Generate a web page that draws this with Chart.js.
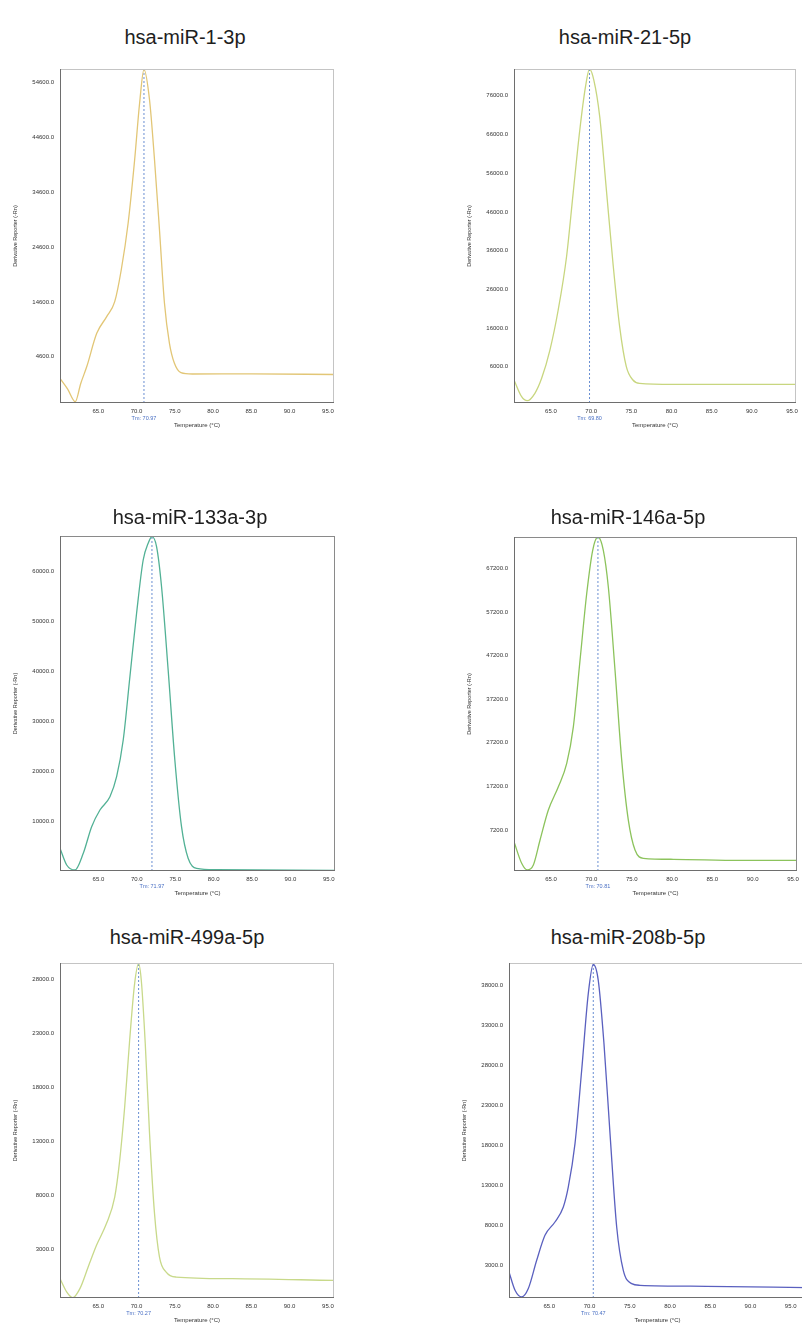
<!DOCTYPE html>
<html><head><meta charset="utf-8">
<script src="https://cdn.jsdelivr.net/npm/chart.js@4.4.1/dist/chart.umd.min.js"></script>
<style>
html,body{margin:0;padding:0;background:#fff;width:802px;height:1323px;overflow:hidden;position:relative;}
.ttl{position:absolute;font-family:"Liberation Sans",Arial,sans-serif;font-size:20px;color:#1e1e1e;transform:translate(-50%,-50%);white-space:nowrap;}
canvas{position:absolute;}
</style></head><body>
<script>
// ---------- data ----------
const titles = ['hsa-miR-1-3p','hsa-miR-21-5p','hsa-miR-133a-3p','hsa-miR-146a-5p','hsa-miR-499a-5p','hsa-miR-208b-5p'];
const tmValues = [70.97, 69.80, 71.97, 70.81, 70.27, 70.47];

const temps1 = [60, 61, 62, 62.7, 63.5, 64.8, 66.1, 67.15, 68, 68.9, 69.75, 70.4, 70.97, 71.7, 72.35, 73, 73.65, 74.3, 74.95, 75.8, 77.3, 85, 95.8];
const deriv1 = [660, -1300, -3600, -330, 2800, 8870, 11900, 14640, 20420, 28950, 40500, 50850, 57000, 51450, 40500, 27700, 14350, 7050, 3400, 1700, 1440, 1460, 1350];

const temps2 = [60.4, 61.35, 62.05, 63.0, 63.84, 64.87, 65.9, 66.94, 67.76, 68.59, 69.3, 69.8, 70.33, 71.07, 71.9, 72.72, 73.55, 74.38, 75.2, 76.03, 80.2, 88.5, 95.5];
const deriv2 = [2560, -1750, -2790, -870, 3000, 10300, 20650, 34420, 50800, 67160, 78350, 82900, 80100, 70600, 51660, 32720, 16340, 6000, 2560, 1710, 1450, 1450, 1450];

const temps3 = [60, 60.87, 61.95, 63.03, 64.12, 65.2, 66.5, 67.37, 68.23, 69.1, 69.97, 70.83, 71.48, 71.97, 72.57, 73.22, 74.08, 74.95, 75.82, 76.68, 77.78, 80.4, 95.8];
const deriv3 = [4680, 1340, 340, 3680, 9000, 12340, 15000, 19000, 26340, 39000, 51680, 62340, 65680, 67000, 65000, 57000, 40340, 22340, 9000, 2680, 680, 400, 250];

const temps4 = [60.4, 61.35, 62.05, 62.8, 63.63, 64.66, 65.9, 66.94, 67.76, 68.59, 69.42, 70.16, 70.81, 71.48, 72.1, 72.93, 73.76, 74.58, 75.41, 76.44, 80.16, 88.44, 95.5];
const deriv4 = [4480, -470, -2010, -860, 4870, 11750, 17100, 22470, 30870, 46160, 61470, 71400, 74500, 71400, 62980, 43870, 23220, 9460, 2580, 680, 450, 220, 220];

const temps5 = [60, 60.87, 61.65, 62.6, 63.68, 64.77, 66.07, 67.15, 67.8, 68.45, 69.1, 69.75, 70.27, 70.62, 71.14, 71.7, 72.35, 73.0, 73.87, 75.17, 82.5, 95.8];
const deriv5 = [313, -920, -1450, -610, 1390, 3400, 5410, 7870, 11270, 16200, 22380, 27630, 29480, 27940, 22070, 13740, 6330, 2310, 920, 460, 313, 150];

const temps6 = [60, 60.75, 61.58, 62.4, 63.44, 64.47, 65.71, 66.75, 67.37, 68.2, 69.03, 69.85, 70.47, 71.09, 71.8, 72.55, 73.38, 74.2, 75.24, 76.27, 84.56, 96.9];
const deriv6 = [2160, -125, -960, 90, 3625, 6750, 8410, 10290, 12790, 18210, 27375, 36960, 40600, 38625, 30710, 19460, 7790, 2375, 710, 500, 375, 200];

const yTicks1 = [54600, 44600, 34600, 24600, 14600, 4600];
const yTicks2 = [76000, 66000, 56000, 46000, 36000, 26000, 16000, 6000];
const yTicks3 = [60000, 50000, 40000, 30000, 20000, 10000];
const yTicks4 = [67200, 57200, 47200, 37200, 27200, 17200, 7200];
const yTicks5 = [28000, 23000, 18000, 13000, 8000, 3000];
const yTicks6 = [38000, 33000, 28000, 23000, 18000, 13000, 8000, 3000];
const xTickValues = [65, 70, 75, 80, 85, 90, 95];

const xRanges = [[60,95.8],[60.4,95.5],[60,95.8],[60.4,95.5],[60,95.8],[60,96.9]];
const yRanges = [[-3850,57100],[-3380,82920],[140,67140],[-2240,74450],[-1480,29540],[-1090,40790]];

const yAxisTitle = 'Derivative Reporter (-Rn)';
const xAxisTitle = 'Temperature (°C)';

// ---------- styling / layout ----------
const lineColors = ['#e2c676', '#c8d67f', '#52b195', '#8cc35c', '#c8d98a', '#5a60bf'];
const frameTopColors = ['#c4c4c4','#c4c4c4','#8a8a8a','#8a8a8a','#c4c4c4','#c4c4c4'];
const plotBoxes = [[60,69,334,403],[514,69,796,403],[60,536,335,871],[514,537,797,871],[60,963,334,1298],[509,963,806,1298]];
const titlePos = [[185,37],[625,37],[190,517],[628,517],[187,937],[628,937]];

const allTemps = [temps1,temps2,temps3,temps4,temps5,temps6];
const allDeriv = [deriv1,deriv2,deriv3,deriv4,deriv5,deriv6];
const allYTicks = [yTicks1,yTicks2,yTicks3,yTicks4,yTicks5,yTicks6];

Chart.defaults.font.family = '"Liberation Sans", Arial, sans-serif';

const framePlugin = {
  id: 'frame',
  afterDatasetsDraw(chart, args, opts) {
    const {ctx, chartArea: {left, top, right, bottom}} = chart;
    ctx.save();
    ctx.lineWidth = 1;
    ctx.strokeStyle = opts.lightColor;
    ctx.beginPath();
    ctx.moveTo(left, top + 0.5); ctx.lineTo(right, top + 0.5);
    ctx.moveTo(right - 0.5, top); ctx.lineTo(right - 0.5, bottom);
    ctx.stroke();
    ctx.strokeStyle = '#6e6e6e';
    ctx.beginPath();
    ctx.moveTo(left + 0.5, top); ctx.lineTo(left + 0.5, bottom);
    ctx.moveTo(left, bottom - 0.5); ctx.lineTo(right, bottom - 0.5);
    ctx.stroke();
    ctx.restore();
  }
};
const tmLabelPlugin = {
  id: 'tmLabel',
  afterDraw(chart, args, opts) {
    const {ctx, chartArea: {bottom}} = chart;
    const x = chart.scales.x.getPixelForValue(opts.tm);
    ctx.save();
    ctx.font = '5.5px "Liberation Sans", Arial, sans-serif';
    ctx.fillStyle = '#4a70c4';
    ctx.textAlign = 'center';
    ctx.textBaseline = 'middle';
    ctx.fillText('Tm: ' + opts.tm.toFixed(2), x, bottom + 15);
    ctx.restore();
  }
};
Chart.register(framePlugin, tmLabelPlugin);

function makePanel(i) {
  const [L, T, R, B] = plotBoxes[i];
  const yW = 60, padTop = 10, padRight = 16, xH = 28;
  const w = yW + (R - L) + padRight, h = padTop + (B - T) + xH;
  const cv = document.createElement('canvas');
  cv.width = w; cv.height = h;
  cv.style.left = (L - yW) + 'px'; cv.style.top = (T - padTop) + 'px';
  cv.style.width = w + 'px'; cv.style.height = h + 'px';
  document.body.appendChild(cv);

  const t = document.createElement('div');
  t.className = 'ttl';
  t.textContent = titles[i];
  t.style.left = titlePos[i][0] + 'px';
  t.style.top = titlePos[i][1] + 'px';
  document.body.appendChild(t);

  const [xmin, xmax] = xRanges[i];
  const [ymin, ymax] = yRanges[i];
  const yt = allYTicks[i];
  new Chart(cv, {
    type: 'line',
    data: {
      datasets: [
        {
          data: allTemps[i].map((tv, k) => ({x: tv, y: allDeriv[i][k]})),
          borderColor: lineColors[i], borderWidth: 1.3, pointRadius: 0,
          cubicInterpolationMode: 'monotone', fill: false
        },
        {
          data: [{x: tmValues[i], y: ymin}, {x: tmValues[i], y: ymax}],
          borderColor: '#6a8fd2', borderWidth: 1, borderDash: [2, 2], pointRadius: 0, fill: false
        }
      ]
    },
    options: {
      responsive: false, animation: false, devicePixelRatio: 1,
      layout: {padding: {top: padTop, right: padRight, left: 0, bottom: 0}},
      plugins: {
        legend: {display: false}, tooltip: {enabled: false},
        frame: {lightColor: frameTopColors[i]},
        tmLabel: {tm: tmValues[i]}
      },
      scales: {
        x: {
          type: 'linear', min: xmin, max: xmax,
          afterBuildTicks: s => { s.ticks = xTickValues.filter(v => v >= xmin && v <= xmax).map(v => ({value: v})); },
          afterFit: s => { s.height = xH; },
          grid: {display: false, drawTicks: false}, border: {display: false},
          ticks: {padding: 5, font: {size: 6}, color: '#333', autoSkip: false, maxRotation: 0, callback: v => Number(v).toFixed(1)},
          title: {display: true, text: xAxisTitle, font: {size: 6}, color: '#333', padding: {top: 0, bottom: 2}}
        },
        y: {
          type: 'linear', min: ymin, max: ymax,
          afterBuildTicks: s => { s.ticks = yt.map(v => ({value: v})); },
          afterFit: s => { s.width = yW; },
          grid: {display: false, drawTicks: false}, border: {display: false},
          ticks: {padding: 6, font: {size: 6}, color: '#333', autoSkip: false, callback: v => Number(v).toFixed(1)},
          title: {display: true, text: yAxisTitle, font: {size: 5.5}, color: '#333', padding: {top: 11.7, bottom: 0}}
        }
      }
    }
  });
}
for (let i = 0; i < 6; i++) makePanel(i);
</script>
</body></html>
